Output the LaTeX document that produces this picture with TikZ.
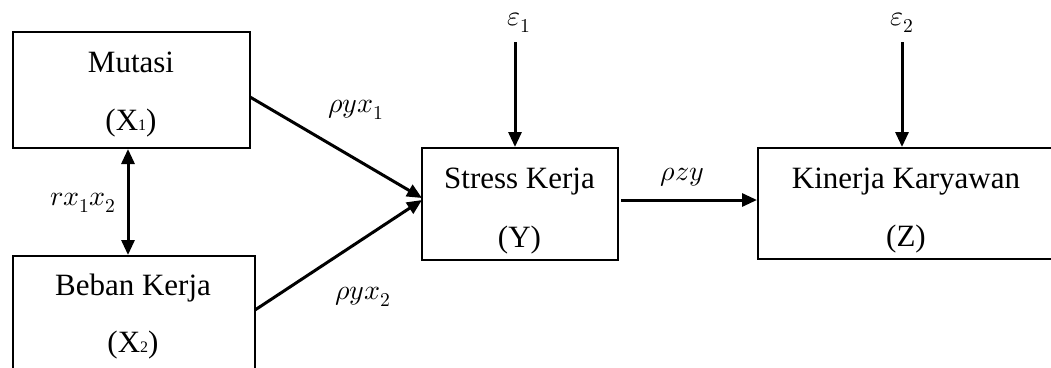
\documentclass[tikz,border=0pt]{standalone}
\usepackage{fontspec}
\usepackage{unicode-math}
\setmainfont{Liberation Serif}
\setmathfont{Latin Modern Math}
\usetikzlibrary{arrows.meta}
\newcommand{\subdig}[1]{{\fontsize{16}{16}\selectfont #1}}
\begin{document}
\begin{tikzpicture}[x=1pt,y=-1pt,
  boxstyle/.style={draw, line width=2pt, rectangle, inner sep=0pt},
  txt/.style={anchor=base, inner sep=0pt, font=\fontsize{31}{31}\selectfont},
  lbl/.style={inner sep=0pt, font=\fontsize{28}{28}\selectfont},
  arr/.style={line width=3pt, -{Triangle[length=15pt,width=13pt]}},
  darr/.style={line width=3pt, {Triangle[length=15pt,width=13pt]}-{Triangle[length=15pt,width=13pt]}}]
\useasboundingbox (0,0) rectangle (1051,367);
% boxes
\node[boxstyle, minimum width=237pt, minimum height=116pt] (X1) at (131.5,90) {};
\node[boxstyle, minimum width=242pt, minimum height=116pt] (X2) at (134,314) {};
\node[boxstyle, minimum width=196pt, minimum height=112pt] (Y) at (519.7,204) {};
\node[boxstyle, minimum width=297pt, minimum height=111pt] (Z) at (906.5,203.5) {};
% texts
\node[txt] (t1) at (131,72) {Mutasi};
\node[txt] (t2) at (131,130) {(X\subdig{1})};
\node[txt] (t3) at (133,295) {Beban Kerja};
\node[txt] (t4) at (133,352) {(X\subdig{2})};
\node[txt] (t5) at (519.5,188) {Stress Kerja};
\node[txt] (t6) at (519.5,247) {(Y)};
\node[txt] (t7) at (906,188) {Kinerja Karyawan};
\node[txt] (t8) at (906,246) {(Z)};
% labels
\node[lbl] (l1) at (83,203) {$rx_1x_2$};
\node[lbl] (l2) at (356,110) {$\rho yx_1$};
\node[lbl] (l3) at (363,297) {$\rho yx_2$};
\node[lbl] (l4) at (682,177) {$\rho zy$};
\node[lbl] (e1) at (519,23) {$\varepsilon_1$};
\node[lbl] (e2) at (902,23) {$\varepsilon_2$};
% coordinates
\coordinate (a1) at (515,42);
\coordinate (a2) at (902,42);
\coordinate (p1) at (250,97);
\coordinate (p2) at (255,310);
\coordinate (q1) at (422,198);
\coordinate (q2) at (422,200);
\coordinate (d) at (128,0);
\coordinate (r1) at (621,200);
% connectors
\draw[arr] (a1) -- (a1 |- Y.north);
\draw[arr] (a2) -- (a2 |- Z.north);
\draw[arr] (p1) -- (q1);
\draw[arr] (p2) -- (q2);
\draw[darr] (d |- X1.south) -- (d |- X2.north);
\draw[arr] (r1) -- (r1 -| Z.west);
\end{tikzpicture}
\end{document}
